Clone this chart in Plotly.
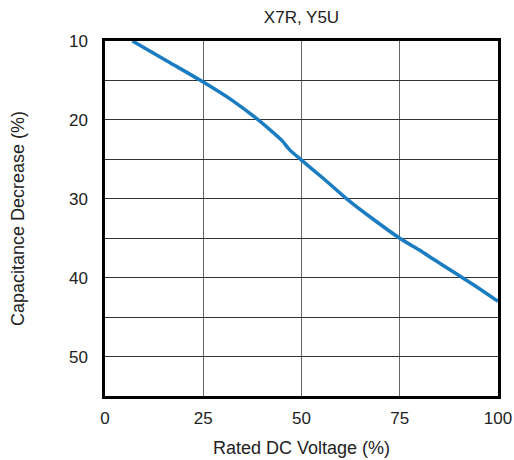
import plotly.graph_objects as go

voltage_pct = [7, 16, 25, 32, 39, 43, 45, 47, 50, 55.5, 61.5, 68, 75, 80, 84, 90, 95, 100]
cap_decrease = [10, 12.6, 15.2, 17.4, 20, 21.7, 22.6, 23.8, 25.1, 27.4, 30, 32.5, 35, 36.5, 37.8, 39.7, 41.3, 43]

x_ticks = [0, 25, 50, 75, 100]
y_ticks = [10, 15, 20, 25, 30, 35, 40, 45, 50, 55]
y_tick_text = ["10", "", "20", "", "30", "", "40", "", "50", ""]

fig = go.Figure()
fig.add_trace(go.Scatter(
    x=voltage_pct, y=cap_decrease, mode="lines",
    line=dict(color="#1a7cc1", width=3.5, shape="spline", smoothing=0.8),
    showlegend=False, hoverinfo="skip",
))

font = dict(family="Liberation Sans, Arial, sans-serif", size=17, color="#222")

fig.update_layout(
    width=514, height=460,
    margin=dict(l=105, r=16, t=41, b=64),
    paper_bgcolor="white", plot_bgcolor="white",
    font=font,
    title=dict(text="X7R, Y5U", x=(105 + 498) / 2 / 514, xanchor="center",
               y=1 - 17 / 460, yanchor="middle", font=dict(size=17, color="#222")),
    xaxis=dict(
        range=[0, 100], tickvals=x_ticks, ticktext=[str(v) for v in x_ticks],
        showgrid=True, gridcolor="#666", gridwidth=1.2,
        showline=True, linecolor="black", linewidth=2.5, mirror=True,
        zeroline=False, ticks="", ticklabelstandoff=5, automargin=False,
        title=dict(text="Rated DC Voltage (%)", standoff=15, font=dict(size=18)),
    ),
    yaxis=dict(
        range=[55, 10], tickvals=y_ticks, ticktext=y_tick_text,
        showgrid=True, gridcolor="#333", gridwidth=1.2,
        showline=True, linecolor="black", linewidth=2.5, mirror=True,
        zeroline=False, ticks="", ticklabelstandoff=11, automargin=False,
        title=dict(text="Capacitance Decrease (%)", standoff=40, font=dict(size=18)),
    ),
)

fig.write_html(
    "out.html",
    config={"displayModeBar": False},
    post_script="document.body.style.margin='0';document.body.style.overflow='hidden';",
)
